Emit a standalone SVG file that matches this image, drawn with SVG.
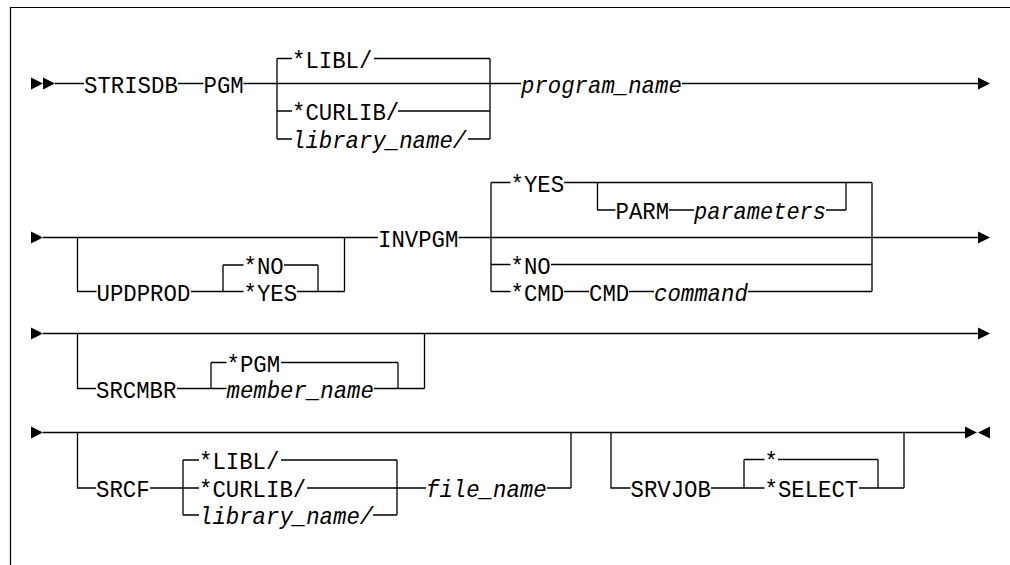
<svg xmlns="http://www.w3.org/2000/svg" width="1010" height="565" viewBox="0 0 1010 565">
<defs>
<style>
.ln{fill:none;stroke:#000;stroke-width:1.3}
.bd{fill:none;stroke:#000;stroke-width:1.2}
text{font-family:"Liberation Mono","DejaVu Sans Mono",monospace;font-size:23px;fill:#000}
.it{font-style:italic}
.ah{fill:#000}
</style>
<polygon id="ar" points="0,-6 12,0 0,6"/>
<polygon id="al" points="12,-6 0,0 12,6"/>
</defs>
<rect width="1010" height="565" fill="#fff"/>
<path class="bd" d="M10.5,565 V7.5 H1010"/>

<g id="connectors">
<path class="ln" d="M55,83.5 H84 M178,83.5 H203.5 M243.5,83.5 H521 M277,58.5 V139 M490,58.5 V139 M277,58.5 H292 M374,58.5 H490 M277,111 H292 M398,111 H490 M277,139 H292 M468,139 H490 M682,83.5 H978"/>
<path class="ln" d="M43,237.5 H378 M77.5,237.5 V291.5 H96.5 M191,291.5 H243.5 M223,265 V291.5 M223,265 H243.5 M284,265 H318 M297,291.5 H344.5 M318,265 V291.5 M344.5,237.5 V291.5 M458.5,237.5 H978 M491,182.5 V291.5 M872,182.5 V291.5 M491,182.5 H510.5 M564,182.5 H872 M597.5,182.5 V210 H615.5 M669,210 H694 M826,210 H846 M846,182.5 V210 M491,264.5 H510.5 M551,264.5 H872 M491,291.5 H510.5 M564,291.5 H589 M629,291.5 H654 M748,291.5 H872"/>
<path class="ln" d="M43,333.5 H978 M77.5,333.5 V388.5 H96 M177,388.5 H226.5 M211,362.5 V388.5 M211,362.5 H226.5 M281,362.5 H398 M374,388.5 H424.5 M398,362.5 V388.5 M424.5,333.5 V388.5"/>
<path class="ln" d="M43,432.5 H965 M77.5,432.5 V488 H96 M150,488 H199 M183,460 V515 M183,460 H199 M281,460 H397 M307,488 H426 M183,515 H199 M373,515 H397 M397,460 V515 M547,488 H571 M571,432.5 V488 M611,432.5 V488 H630.5 M711,488 H764.5 M744,459.5 V488 M744,459.5 H764.5 M778,459.5 H878 M859,488 H904 M878,459.5 V488 M904,432.5 V488"/>
<g class="ah">
<use href="#ar" x="31" y="83.5"/>
<use href="#ar" x="43" y="83.5"/>
<use href="#ar" x="978" y="83.5"/>
<use href="#ar" x="31" y="237.5"/>
<use href="#ar" x="978" y="237.5"/>
<use href="#ar" x="31" y="333.5"/>
<use href="#ar" x="978" y="333.5"/>
<use href="#ar" x="31" y="432.5"/>
<use href="#ar" x="965" y="432.5"/>
<use href="#al" x="978" y="432.5"/>
</g>
</g>

<g id="n-strisdb"><text x="84" y="92.5" textLength="93.8" lengthAdjust="spacingAndGlyphs">STRISDB</text></g>
<g id="n-pgm"><text x="203.5" y="92.5" textLength="40.2" lengthAdjust="spacingAndGlyphs">PGM</text></g>
<g id="n-libl1"><text x="292" y="67.5" textLength="80.4" lengthAdjust="spacingAndGlyphs">*LIBL/</text></g>
<g id="n-curlib1"><text x="292" y="120" textLength="107.2" lengthAdjust="spacingAndGlyphs">*CURLIB/</text></g>
<g id="n-libname1"><text class="it" x="292" y="148" textLength="174.2" lengthAdjust="spacingAndGlyphs">library_name/</text></g>
<g id="n-progname"><text class="it" x="521" y="92.5" textLength="160.8" lengthAdjust="spacingAndGlyphs">program_name</text></g>

<g id="n-updprod"><text x="96.5" y="300.5" textLength="93.8" lengthAdjust="spacingAndGlyphs">UPDPROD</text></g>
<g id="n-no1"><text x="243.5" y="274" textLength="40.2" lengthAdjust="spacingAndGlyphs">*NO</text></g>
<g id="n-yes1"><text x="243.5" y="300.5" textLength="53.6" lengthAdjust="spacingAndGlyphs">*YES</text></g>
<g id="n-invpgm"><text x="378" y="246.5" textLength="80.4" lengthAdjust="spacingAndGlyphs">INVPGM</text></g>
<g id="n-yes2"><text x="510.5" y="191.5" textLength="53.6" lengthAdjust="spacingAndGlyphs">*YES</text></g>
<g id="n-parm"><text x="615.5" y="219" textLength="53.6" lengthAdjust="spacingAndGlyphs">PARM</text></g>
<g id="n-parameters"><text class="it" x="694" y="219" textLength="132" lengthAdjust="spacingAndGlyphs">parameters</text></g>
<g id="n-no2"><text x="510.5" y="273.5" textLength="40.2" lengthAdjust="spacingAndGlyphs">*NO</text></g>
<g id="n-cmd1"><text x="510.5" y="300.5" textLength="53.6" lengthAdjust="spacingAndGlyphs">*CMD</text></g>
<g id="n-cmd2"><text x="589" y="300.5" textLength="40.2" lengthAdjust="spacingAndGlyphs">CMD</text></g>
<g id="n-command"><text class="it" x="654" y="300.5" textLength="93.8" lengthAdjust="spacingAndGlyphs">command</text></g>

<g id="n-srcmbr"><text x="96" y="397.5" textLength="80.4" lengthAdjust="spacingAndGlyphs">SRCMBR</text></g>
<g id="n-pgm2"><text x="226.5" y="371.5" textLength="53.6" lengthAdjust="spacingAndGlyphs">*PGM</text></g>
<g id="n-membername"><text class="it" x="226.5" y="397.5" textLength="147.4" lengthAdjust="spacingAndGlyphs">member_name</text></g>

<g id="n-srcf"><text x="96" y="497" textLength="53.6" lengthAdjust="spacingAndGlyphs">SRCF</text></g>
<g id="n-libl2"><text x="199" y="469" textLength="80.4" lengthAdjust="spacingAndGlyphs">*LIBL/</text></g>
<g id="n-curlib2"><text x="199" y="497" textLength="107.2" lengthAdjust="spacingAndGlyphs">*CURLIB/</text></g>
<g id="n-libname2"><text class="it" x="199" y="524" textLength="174.2" lengthAdjust="spacingAndGlyphs">library_name/</text></g>
<g id="n-filename"><text class="it" x="426" y="497" textLength="120.6" lengthAdjust="spacingAndGlyphs">file_name</text></g>
<g id="n-srvjob"><text x="630.5" y="497" textLength="80.4" lengthAdjust="spacingAndGlyphs">SRVJOB</text></g>
<g id="n-star"><text x="764.5" y="468.5" textLength="13.4" lengthAdjust="spacingAndGlyphs">*</text></g>
<g id="n-select"><text x="764.5" y="497" textLength="93.8" lengthAdjust="spacingAndGlyphs">*SELECT</text></g>
</svg>
